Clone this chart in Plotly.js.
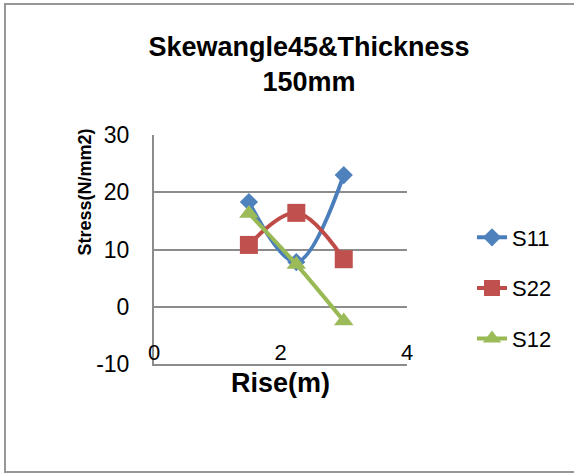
<!DOCTYPE html>
<html>
<head>
<meta charset="utf-8">
<script src="https://cdn.plot.ly/plotly-3.0.1.min.js"></script>
<style>
  html, body { margin: 0; padding: 0; overflow: hidden; background: #fff; }
  #frame { position: absolute; left: 4px; top: 3px; width: 620px; height: 466px;
           border: 2px solid #979797; box-sizing: content-box; pointer-events: none; }
  #chart { position: absolute; left: 0; top: 0; width: 574px; height: 473px; }
</style>
</head>
<body>
<div id="chart"></div>
<div id="frame"></div>
<script>
// Rise (m) at which the stresses were evaluated
var rise = [1.5, 2.25, 3.0];

// Stress components (N/mm2)
var s11 = [18.3, 7.8, 23.0];
var s22 = [10.8, 16.4, 8.3];
var s12 = [16.3, 7.4, -2.5];

var seriesNames = ['S11', 'S22', 'S12'];
var xTicks = [0, 2, 4];
var xTickLabels = ['0', '2', '4'];
var yTicks = [-10, 0, 10, 20, 30];
var yTickLabels = ['-10', '0', '10', '20', '30'];

var FONT = 'Liberation Sans, Arial, sans-serif';

function series(name, y, lineColor, markerColor, symbol, size, group) {
  return {
    x: rise, y: y, name: name, type: 'scatter', mode: 'lines+markers',
    legendgroup: group,
    line: { color: lineColor, width: 4, shape: 'spline', smoothing: 1 },
    marker: { color: markerColor, symbol: symbol, size: size,
              line: { width: 0 } },
    cliponaxis: false
  };
}

var data = [
  series(seriesNames[0], s11, '#4A7EBB', '#4F81BD', 'diamond', 14, 'a'),
  series(seriesNames[1], s22, '#BE4B48', '#C0504D', 'square', 18, 'b'),
  series(seriesNames[2], s12, '#98B954', '#9BBB59', 'triangle-up', 17, 'c'),
  // invisible companion trace carrying the x tick labels drawn just above the baseline
  { x: xTicks, y: [null, null, null], xaxis: 'x2', yaxis: 'y', showlegend: false,
    hoverinfo: 'skip', type: 'scatter', mode: 'markers' }
];

var layout = {
  width: 574, height: 473,
  margin: { l: 154, r: 167, t: 135, b: 109 },
  paper_bgcolor: '#fff', plot_bgcolor: '#fff',
  font: { family: FONT, color: '#000' },
  showlegend: true,
  title: {
    text: '<b>Skewangle45&Thickness<br>150mm</b>',
    font: { family: FONT, size: 27, color: '#000' },
    x: 309 / 574, xref: 'container', xanchor: 'center',
    y: 1 - 56 / 473, yref: 'container', yanchor: 'top'
  },
  xaxis: {
    range: [0, 4], tickvals: xTicks, showticklabels: false,
    showgrid: false, zeroline: false,
    showline: true, linecolor: '#8C8C8C', linewidth: 2,
    ticks: '', fixedrange: true
  },
  xaxis2: {
    overlaying: 'x', anchor: 'free', position: 0.118, matches: 'x',
    range: [0, 4], tickvals: xTicks, ticktext: xTickLabels,
    tickfont: { family: FONT, size: 22, color: '#000' },
    showgrid: false, zeroline: false, showline: false, ticks: ''
  },
  yaxis: {
    range: [-10, 30], tickvals: yTicks, ticktext: yTickLabels,
    tickfont: { family: FONT, size: 23, color: '#000' },
    showgrid: true, gridcolor: '#8C8C8C', gridwidth: 2,
    zeroline: false, showline: true, linecolor: '#8C8C8C', linewidth: 2,
    ticks: '', ticklabelstandoff: 18, fixedrange: true
  },
  legend: {
    x: (472 - 154) / 253, xref: 'paper', xanchor: 'left',
    y: (364 - 288) / 229, yanchor: 'middle',
    font: { family: FONT, size: 22, color: '#000' },
    traceorder: 'grouped', tracegroupgap: 19,
    bgcolor: 'rgba(0,0,0,0)'
  },
  annotations: [
    { text: '<b>Stress(N/mm2)</b>', xref: 'paper', yref: 'paper',
      x: (84 - 154) / 253, y: (364 - 192.5) / 229,
      xanchor: 'center', yanchor: 'middle', textangle: -90, showarrow: false,
      font: { family: FONT, size: 18, color: '#000' } },
    { text: '<b>Rise(m)</b>', xref: 'paper', yref: 'paper',
      x: 0.5, y: (364 - 383) / 229,
      xanchor: 'center', yanchor: 'middle', showarrow: false,
      font: { family: FONT, size: 27, color: '#000' } }
  ]
};

Plotly.newPlot('chart', data, layout, { displayModeBar: false, staticPlot: true });
</script>
</body>
</html>
